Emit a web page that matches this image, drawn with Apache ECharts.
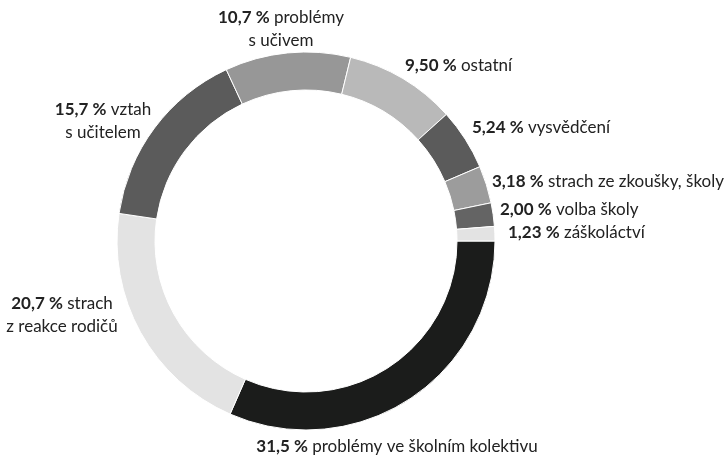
<!DOCTYPE html>
<html>
<head>
<meta charset="utf-8">
<script src="https://cdn.jsdelivr.net/npm/echarts@6/dist/echarts.min.js"></script>
<style>
  html, body { margin: 0; padding: 0; background: #fff; }
  #chart { width: 727px; height: 458px; }
</style>
</head>
<body>
<div id="chart"></div>
<script>
  // podíly v procentech, po směru hodinových ručiček od 3 hodin
  const categories = [
    'problémy ve školním kolektivu',
    'strach\nz reakce rodičů',
    'vztah\ns učitelem',
    'problémy\ns učivem',
    'ostatní',
    'vysvědčení',
    'strach ze zkoušky, školy',
    'volba školy',
    'záškoláctví'
  ];
  const values = [31.5, 20.7, 15.7, 10.7, 9.50, 5.24, 3.18, 2.00, 1.23];
  const colors = ['#1b1c1b', '#e3e3e3', '#5b5b5b', '#979797', '#b9b9b9', '#5b5b5b', '#9c9c9c', '#646464', '#e3e3e3'];

  // umístění popisků [x, y, zarovnání]
  const labelPos = [
    [397, 447, 'center'],
    [62, 315, 'center'],
    [103, 121, 'center'],
    [281, 29, 'center'],
    [405, 66, 'left'],
    [472, 128, 'left'],
    [492, 182, 'left'],
    [500, 210, 'left'],
    [508, 233, 'left']
  ];

  function fmt(v) {
    return v.toPrecision(3).replace('.', ',');
  }

  const chart = echarts.init(document.getElementById('chart'));
  chart.setOption({
    animation: false,
    series: [{
      type: 'pie',
      center: [306, 241],
      radius: [151, 189],
      startAngle: 0,
      clockwise: true,
      avoidLabelOverlap: false,
      itemStyle: { borderColor: '#fff', borderWidth: 1 },
      label: {
        show: true,
        position: 'outside',
        fontFamily: 'Lato',
        fontSize: 17,
        color: '#222',
        lineHeight: 23,
        align: 'center',
        formatter: function (p) {
          const lines = p.name.split('\n');
          let s = '{b|' + fmt(p.value) + ' %} {n|' + lines[0] + '}';
          if (lines.length > 1) s += '\n{n|' + lines[1] + '}';
          return s;
        },
        rich: {
          b: { fontWeight: 'bold', fontFamily: 'Lato', fontSize: 17, color: '#222', lineHeight: 23 },
          n: { fontFamily: 'Lato', fontSize: 17, color: '#222', lineHeight: 23 }
        }
      },
      labelLine: { show: false },
      labelLayout: function (p) {
        const lp = labelPos[p.dataIndex];
        return { x: lp[0], y: lp[1], align: lp[2], verticalAlign: 'middle', hideOverlap: false, moveOverlap: false };
      },
      data: categories.map((c, i) => ({
        name: c,
        value: values[i],
        itemStyle: { color: colors[i] }
      }))
    }]
  });
</script>
</body>
</html>
